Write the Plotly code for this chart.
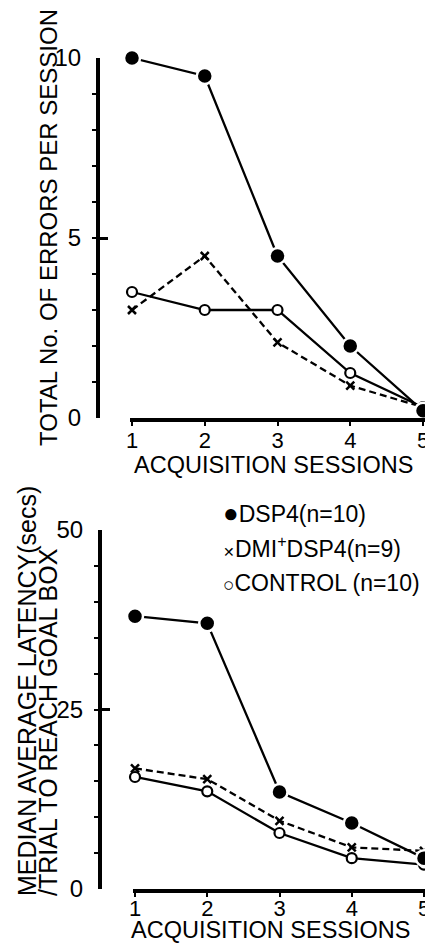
import plotly.graph_objects as go

# Page body adds an 8px margin; lay out in reference pixels and shift by it.
OFF = 8
W, H = 433 - OFF, 943 - OFF

sessions = [1, 2, 3, 4, 5]

# Top panel: total number of errors per session
err_dsp4 = [10, 9.5, 4.5, 2.0, 0.2]
err_dmi = [3.0, 4.5, 2.1, 0.9, 0.3]
err_ctrl = [3.5, 3.0, 3.0, 1.25, 0.3]

# Bottom panel: median average latency (secs)
lat_dsp4 = [38, 37, 13.5, 9.2, 4.3]
lat_dmi = [16.8, 15.3, 9.5, 5.8, 5.3]
lat_ctrl = [15.6, 13.6, 7.8, 4.3, 3.4]

top_yticks = [0, 5, 10]
bot_yticks = [0, 25, 50]
x_ticks = [1, 2, 3, 4, 5]

legend_labels = ["DSP4(n=10)", "DMI<sup>+</sup>DSP4(n=9)", "CONTROL (n=10)"]

SANS = "Liberation Sans, Arial"
BLACK = "#000000"

def px(x):
    return (x - OFF) / W

def py(y):
    return 1 - (y - OFF) / H

fig = go.Figure()

def add_panel(xa, ya, dsp4, dmi, ctrl):
    fig.add_trace(go.Scatter(
        x=sessions, y=dmi, xaxis=xa, yaxis=ya, mode="lines+markers",
        line=dict(color=BLACK, width=2.3, dash="7px,4px"),
        marker=dict(symbol="x-thin", size=8, line=dict(color=BLACK, width=2.5)),
        cliponaxis=False, showlegend=False))
    fig.add_trace(go.Scatter(
        x=sessions, y=ctrl, xaxis=xa, yaxis=ya, mode="lines+markers",
        line=dict(color=BLACK, width=2.3),
        marker=dict(symbol="circle", size=10, color="white", line=dict(color=BLACK, width=2.2)),
        cliponaxis=False, showlegend=False))
    fig.add_trace(go.Scatter(
        x=sessions, y=dsp4, xaxis=xa, yaxis=ya, mode="lines+markers",
        line=dict(color=BLACK, width=2.3),
        marker=dict(symbol="circle", size=16, color=BLACK, line=dict(color="white", width=2.5)),
        cliponaxis=False, showlegend=False))

add_panel("x", "y", err_dsp4, err_dmi, err_ctrl)
add_panel("x2", "y2", lat_dsp4, lat_dmi, lat_ctrl)

ytickfont = dict(family=SANS, size=24, color=BLACK)
xtickfont = dict(family=SANS, size=22, color=BLACK)

def xaxis_cfg(d0, d1, r0, r1, anchor, standoff):
    return dict(domain=[px(d0), px(d1)], range=[r0, r1], anchor=anchor,
                tickvals=x_ticks, ticktext=[str(v) for v in x_ticks],
                showline=True, linecolor=BLACK, linewidth=4,
                ticks="outside", ticklen=4, tickwidth=2, tickcolor=BLACK,
                showgrid=False, zeroline=False, tickfont=xtickfont,
                automargin=False, ticklabelstandoff=standoff)

def yaxis_cfg(top, bot, rmax, ticks, minor, xpos):
    return dict(domain=[py(bot), py(top)], range=[0, rmax], anchor="free",
                position=px(xpos), tickvals=ticks,
                showline=True, linecolor=BLACK, linewidth=4,
                ticks="inside", ticklen=8, tickwidth=2.5, tickcolor=BLACK,
                minor=dict(dtick=minor, tick0=0, ticks="outside", ticklen=4,
                           tickwidth=2, tickcolor=BLACK, showgrid=False),
                showgrid=False, zeroline=False, tickfont=ytickfont,
                automargin=False, ticklabelstandoff=10)

fig.update_layout(
    width=W, height=H,
    margin=dict(l=0, r=0, t=0, b=0, autoexpand=False),
    paper_bgcolor="white", plot_bgcolor="white",
    showlegend=False,
    xaxis=xaxis_cfg(130, 426, 1 - 2 / 72.75, 5 + 3 / 72.75, "y", -4),
    yaxis=yaxis_cfg(58, 418, 10, top_yticks, 1, 98),
    xaxis2=xaxis_cfg(133, 428, 1 - 2 / 72.25, 5 + 4 / 72.25, "y2", -7),
    yaxis2=yaxis_cfg(530, 889, 50, bot_yticks, 5, 100),
)

ann = []
# axis titles
ann.append(dict(text="TOTAL No. OF ERRORS PER SESSION", x=px(48), y=py(228),
                textangle=-90, font=dict(family=SANS, size=24, color=BLACK)))
ann.append(dict(text="ACQUISITION SESSIONS", x=px(273), y=py(465),
                font=dict(family=SANS, size=23.5, color=BLACK)))
ann.append(dict(text="MEDIAN AVERAGE LATENCY(secs)", x=px(27), y=py(898), yanchor="bottom",
                textangle=-90, font=dict(family=SANS, size=25, color=BLACK)))
ann.append(dict(text="/TRIAL TO REACH GOAL BOX", x=px(48), y=py(898), yanchor="bottom",
                textangle=-90, font=dict(family=SANS, size=25, color=BLACK)))
ann.append(dict(text="ACQUISITION SESSIONS", x=px(270), y=py(930),
                font=dict(family=SANS, size=23.5, color=BLACK)))

# legend
sym = ['<span style="font-size:26px">●</span>',
       '<span style="font-size:14px">✕</span>',
       '<span style="font-size:19px">○</span>']
rows = [513, 547, 583]
for s, lab, r in zip(sym, legend_labels, rows):
    ann.append(dict(text=s + lab, x=px(221), y=py(r), xanchor="left",
                    font=dict(family=SANS, size=23, color=BLACK)))

for a in ann:
    a.setdefault("xref", "paper")
    a.setdefault("yref", "paper")
    a.setdefault("showarrow", False)
    a.setdefault("xanchor", "center")
    a.setdefault("yanchor", "middle")
fig.update_layout(annotations=ann)

fig.write_html("out.html")
